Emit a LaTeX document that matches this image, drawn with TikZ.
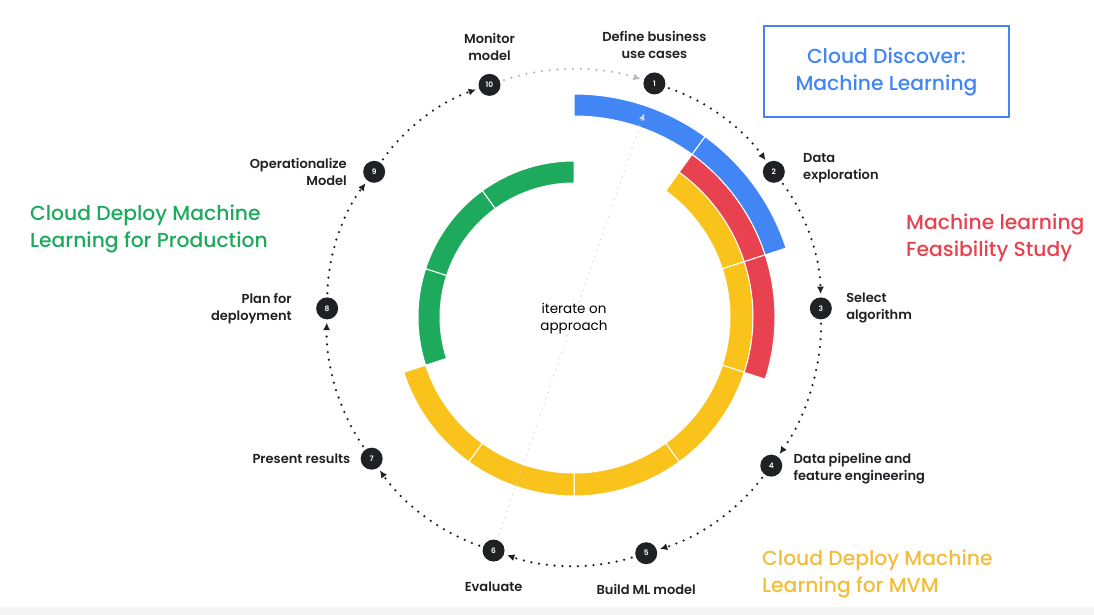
\documentclass[tikz,border=0pt]{standalone}
\usepackage{fontspec}
\setmainfont{Poppins}
\newfontfamily\phasefont{Poppins Medium}
\newfontfamily\labelfont{Poppins SemiBold}
\usetikzlibrary{arrows.meta,positioning}

\definecolor{gblue}{HTML}{4285F4}
\definecolor{gred}{HTML}{E8414F}
\definecolor{gyellow}{HTML}{F9C31B}
\definecolor{gyellowtext}{HTML}{F2BD3A}
\definecolor{ggreen}{HTML}{1DAA5C}
\definecolor{gdark}{HTML}{202124}

\tikzset{
  stepdot/.style={circle, fill=gdark, text=white, minimum size=22pt, inner sep=0pt,
    font=\fontsize{7.5}{7.5}\selectfont\labelfont},
  steplabel/.style={font=\fontsize{13}{17}\selectfont\labelfont, text=gdark, inner sep=1pt},
  phase/.style={font=\fontsize{20.3}{27}\selectfont\phasefont, inner sep=0pt, align=left},
  flow/.style={gdark, line width=2.5pt, dash pattern=on 0pt off 7.8pt, line cap=round,
    -{Latex[length=7.5pt,width=7pt]}, bend left=18, looseness=0.87,
    shorten >=3pt, shorten <=4pt},
  iterline/.style={gray!30, line width=1.6pt, dash pattern=on 0pt off 6pt, line cap=round,
    -{Latex[length=7pt,width=6pt]}, shorten >=20pt, shorten <=6pt},
  ring/.style={draw=white, line width=1pt}
}

\begin{document}
\begin{tikzpicture}[x=1pt,y=1pt]
    % origin sits at the middle of the cycle
    \useasboundingbox (-574,-298) rectangle (520,317);
    \fill[gray!8] (-574,-298) rectangle (520,-290);
    % Colored rings, one piece per step
    \foreach \col/\rin/\rout/\a/\b in {
        ggreen/134/156/90/126, ggreen/134/156/126/162, ggreen/134/156/162/198,
        gyellow/156/179/54/18, gyellow/156/179/18/-18, gyellow/156/179/-18/-54,
        gyellow/156/179/-54/-90, gyellow/156/179/-90/-126, gyellow/156/179/-126/-162,
        gred/179/201/54/18, gred/179/201/18/-18,
        gblue/201/223/90/54, gblue/201/223/54/18} {
        \fill[\col, ring] (\a:\rin pt) arc[start angle=\a, end angle=\b, radius=\rin pt]
            -- (\b:\rout pt) arc[start angle=\b, end angle=\a, radius=\rout pt] -- cycle;
    }
    % Numbered steps
    \foreach \i/\a in {1/71, 2/36, 3/2, 4/-37, 5/-73, 6/-109, 7/-145, 8/178, 9/144, 10/110} {
        \node[stepdot] (n\i) at (\a:247pt) {\i};
    }
    % Dotted arrows between steps
    \foreach \i/\j in {1/2, 2/3, 3/4, 4/5, 5/6, 6/7, 7/8, 8/9, 9/10} {
        \draw[flow] (n\i) to (n\j);
    }
    \draw[flow, gray!55] (n10) to (n1);
    \draw[iterline] (n6) -- (n1);
    \node[font=\fontsize{13.5}{17}\selectfont, fill=white, inner sep=1pt, align=center] (iter) at (0,-2) {iterate on\\approach};
    % Step labels
    \node[steplabel, align=center, above=12pt of n10] (l10) {Monitor\\model};
    \node[steplabel, align=center, above=12pt of n1] (l1) {Define business\\use cases};
    \node[steplabel, align=left, right=17pt of n2, yshift=4pt] (l2) {Data\\exploration};
    \node[steplabel, align=left, right=13pt of n3] (l3) {Select\\algorithm};
    \node[steplabel, align=left, right=10pt of n4, yshift=-3pt] (l4) {Data pipeline and\\feature engineering};
    \node[steplabel, below=19pt of n5] (l5) {Build ML model};
    \node[steplabel, below=19pt of n6] (l6) {Evaluate};
    \node[steplabel, left=9pt of n7] (l7) {Present results};
    \node[steplabel, align=right, left=23pt of n8] (l8) {Plan for\\deployment};
    \node[steplabel, align=right, left=15pt of n9] (l9) {Operationalize\\Model};
    % Phase titles
    \node[phase, text=gblue, align=center, draw=gblue, line width=2pt,
        minimum width=245pt, minimum height=91pt] (discover) at (312.5,245.5) {Cloud Discover:\\Machine Learning};
    \node[phase, text=gred, anchor=west] (feasibility) at (332,79) {Machine learning\\Feasibility Study};
    \node[phase, text=ggreen, anchor=west] (production) at (-544,88.5) {Cloud Deploy Machine\\Learning for Production};
    \node[phase, text=gyellowtext, anchor=west] (mvm) at (188,-257) {Cloud Deploy Machine\\Learning for MVM};
\end{tikzpicture}
\end{document}
